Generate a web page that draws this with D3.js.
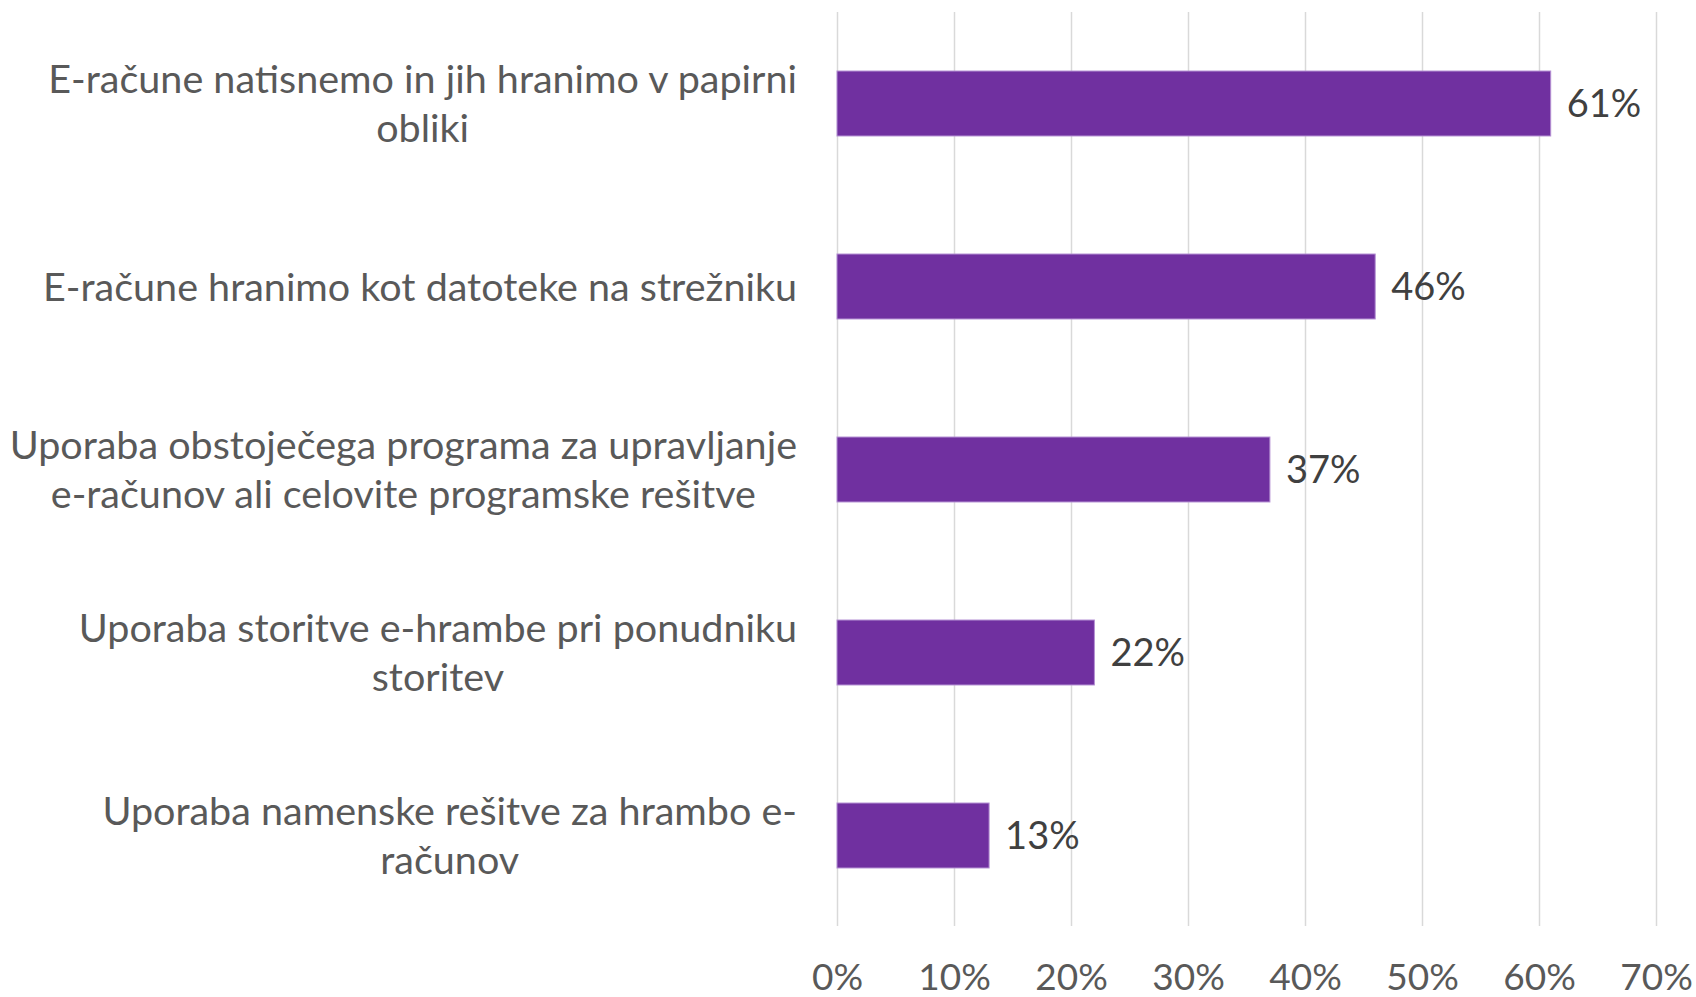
<!DOCTYPE html>
<html>
<head>
<meta charset="utf-8">
<script src="https://cdn.jsdelivr.net/npm/d3@7"></script>
<style>
  body { margin: 0; background: #fff; }
  svg { display: block; font-family: Lato, "Open Sans", sans-serif; }
</style>
</head>
<body>
<svg width="1696" height="997"></svg>
<script>
const categories = [
  ['E-račune natisnemo in jih hranimo v papirni', 'obliki'],
  ['E-račune hranimo kot datoteke na strežniku'],
  ['Uporaba obstoječega programa za upravljanje', 'e-računov ali celovite programske rešitve'],
  ['Uporaba storitve e-hrambe pri ponudniku', 'storitev'],
  ['Uporaba namenske rešitve za hrambo e-', 'računov']
];
const values = [0.61, 0.46, 0.37, 0.22, 0.13];
const tickValues = [0, 0.1, 0.2, 0.3, 0.4, 0.5, 0.6, 0.7];

const svg = d3.select('svg');
const x = d3.scaleLinear().domain([0, 0.7]).range([837, 1656]);
const y = d3.scaleBand()
  .domain(d3.range(values.length))
  .range([12, 927])
  .paddingInner(0.645)
  .paddingOuter(0.3225);
const fmt = d3.format('.0%');

// gridlines
svg.append('g')
  .selectAll('line')
  .data(tickValues)
  .join('line')
  .attr('x1', d => x(d) + 0.5)
  .attr('x2', d => x(d) + 0.5)
  .attr('y1', 12)
  .attr('y2', 926)
  .attr('stroke', '#d9d9d9')
  .attr('stroke-width', 1.5);

// axis labels
const axis = svg.append('g')
  .attr('transform', 'translate(0, 990)')
  .call(d3.axisBottom(x).tickValues(tickValues).tickFormat(fmt).tickSize(0).tickPadding(0));
axis.select('.domain').remove();
axis.selectAll('text')
  .attr('dy', 0)
  .attr('fill', '#595959')
  .style('font-size', '37px')
  .style('font-family', 'Lato, sans-serif');

// bars
svg.append('g')
  .selectAll('rect')
  .data(values)
  .join('rect')
  .attr('x', x(0))
  .attr('y', (d, i) => y(i))
  .attr('width', d => x(d) - x(0))
  .attr('height', y.bandwidth())
  .attr('fill', '#7030a0')
  .attr('stroke', '#b48fd3')
  .attr('stroke-width', 1);

// data labels
svg.append('g')
  .selectAll('text')
  .data(values)
  .join('text')
  .attr('x', d => x(d) + 16)
  .attr('y', (d, i) => y(i) + y.bandwidth() / 2)
  .attr('dy', '0.36em')
  .attr('fill', '#404040')
  .style('font-size', '38px')
  .text(fmt);

// category labels, lines centred on each other, block right-aligned
const right = 797;
const lineH = 49;
const labels = svg.append('g')
  .selectAll('g')
  .data(categories)
  .join('g');

labels.each(function (lines, i) {
  const g = d3.select(this);
  const cy = y(i) + y.bandwidth() / 2;
  const texts = lines.map((line, j) => g.append('text')
    .attr('y', cy + (j - (lines.length - 1) / 2) * lineH)
    .attr('dy', '0.36em')
    .attr('text-anchor', 'middle')
    .attr('fill', '#595959')
    .style('font-size', '39.5px')
    .text(line));
  const maxW = d3.max(texts, t => t.node().getComputedTextLength());
  texts.forEach(t => t.attr('x', right - maxW / 2));
});
</script>
</body>
</html>
